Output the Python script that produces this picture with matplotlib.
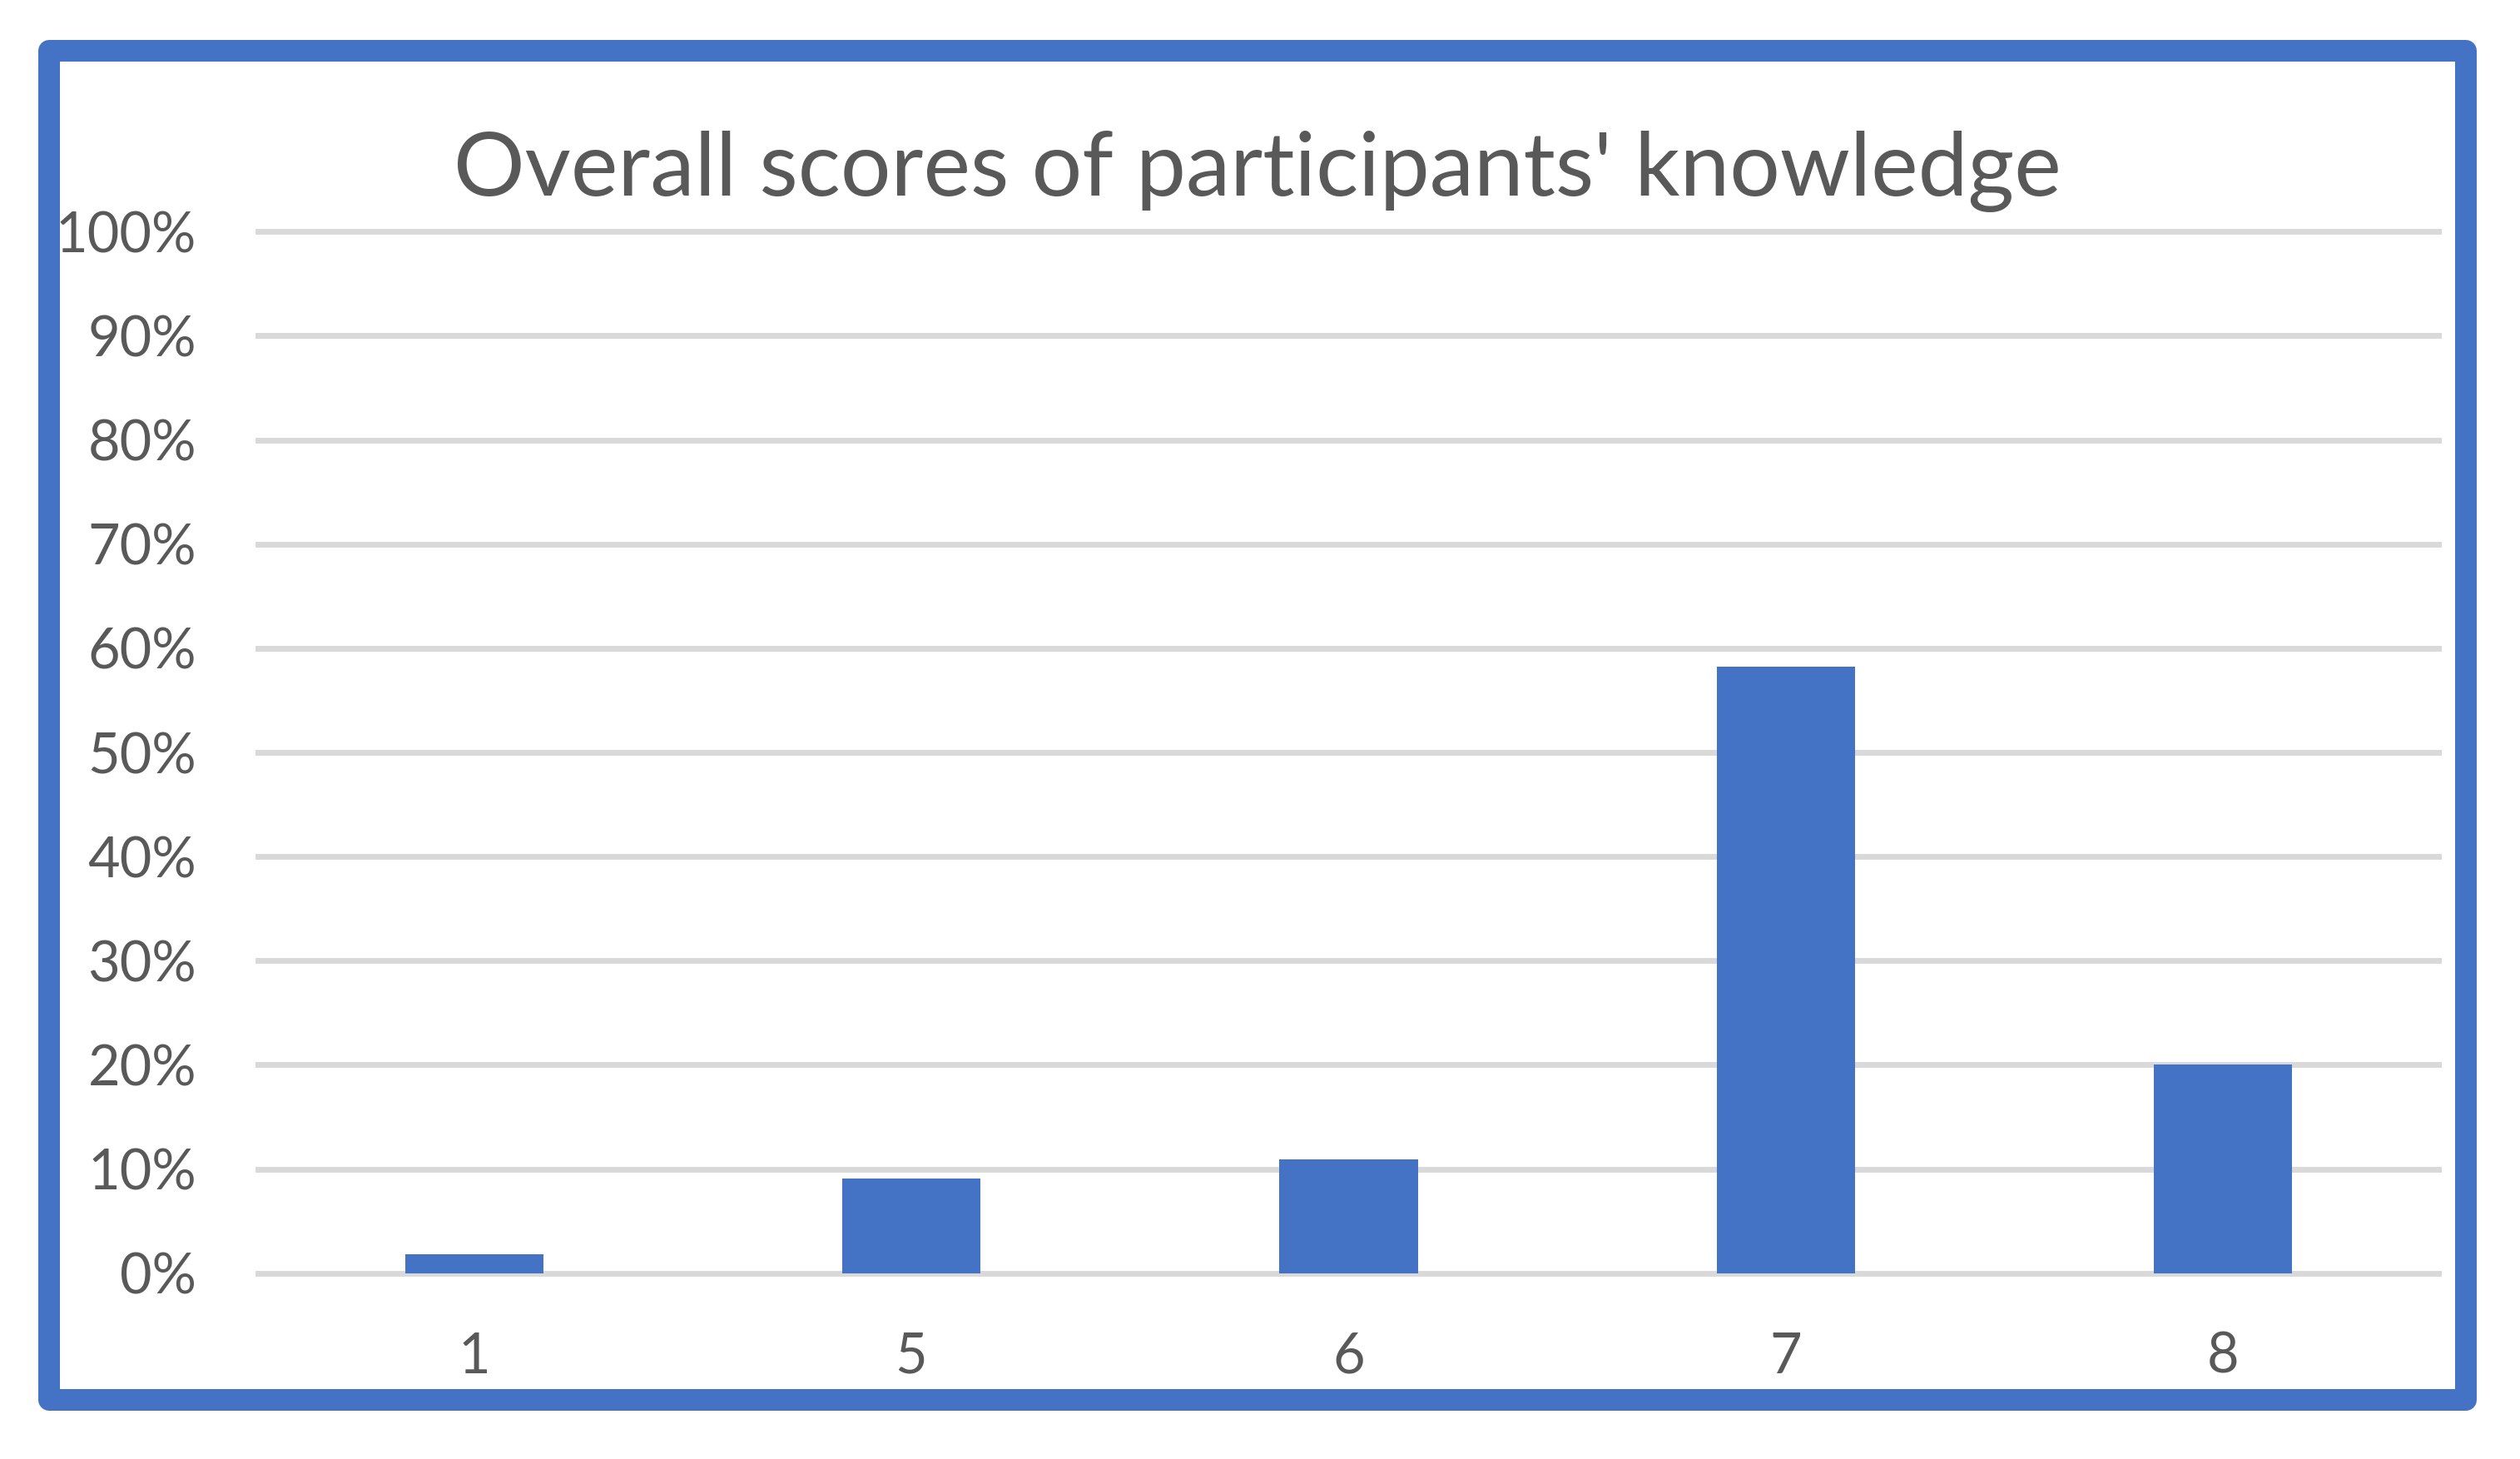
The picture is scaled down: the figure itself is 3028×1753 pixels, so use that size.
import matplotlib
matplotlib.use("Agg")
import matplotlib.pyplot as plt
from matplotlib.patches import Rectangle
from matplotlib.ticker import PercentFormatter

# data
scores = ['1', '5', '6', '7', '8']
shares = [0.0185, 0.091, 0.109, 0.582, 0.200]
y_ticks = [0, 0.1, 0.2, 0.3, 0.4, 0.5, 0.6, 0.7, 0.8, 0.9, 1.0]

W, H = 3028, 1753
bar_color = '#4472C4'
text_color = '#595959'
grid_color = '#D9D9D9'

plt.rcParams['font.family'] = ['Lato', 'DejaVu Sans']

fig = plt.figure(figsize=(W / 100, H / 100), dpi=100)
fig.patch.set_facecolor('white')

# plot area in pixel terms (from top-left), converted to figure fractions
left, right = 307, 2934
top, bottom = 272, 1536
ax = fig.add_axes([left / W, 1 - bottom / H, (right - left) / W, (bottom - top) / H])

ax.bar(range(len(scores)), shares, width=0.316, color=bar_color, zorder=3)

ax.set_xlim(-0.5, len(scores) - 0.5)
ax.set_ylim(-0.005, 1.005)
ax.set_yticks(y_ticks)
ax.yaxis.set_major_formatter(PercentFormatter(1.0, decimals=0))
ax.set_xticks(range(len(scores)))
ax.set_xticklabels(scores)

ax.grid(axis='y', color=grid_color, linewidth=5, zorder=0)
for s in ax.spines.values():
    s.set_visible(False)
ax.tick_params(axis='both', length=0, labelsize=48, colors=text_color)
ax.tick_params(axis='y', pad=51)
ax.tick_params(axis='x', pad=46)

fig.text(1511 / W, 1 - 235 / H, "Overall scores of participants' knowledge",
         ha='center', va='baseline', fontsize=77, color=text_color)

# blue frame around the chart
lw_px = 26
fig.patches.append(Rectangle((59 / W, 1 - 1682 / H), (2963 - 59) / W, (1682 - 61) / H,
                             transform=fig.transFigure, fill=False, edgecolor=bar_color,
                             linewidth=lw_px * 0.72, joinstyle='round', zorder=10))

fig.savefig('out.png', dpi=100, facecolor='white')
